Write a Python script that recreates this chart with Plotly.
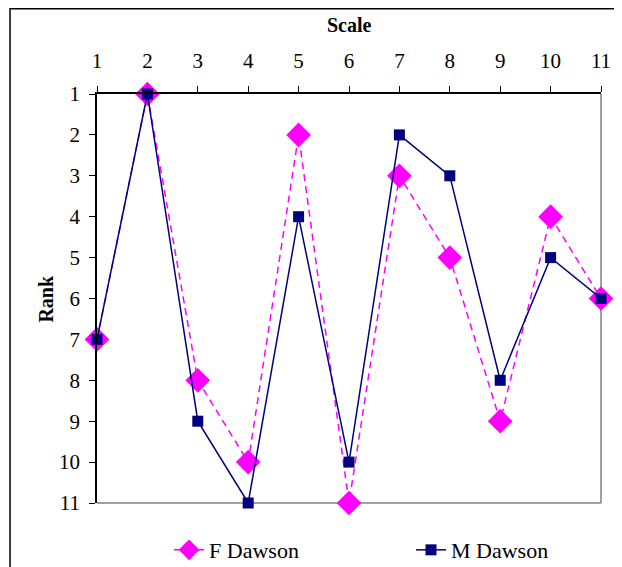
import plotly.graph_objects as go

scale = [1, 2, 3, 4, 5, 6, 7, 8, 9, 10, 11]
f_dawson = [7, 1, 8, 10, 2, 11, 3, 5, 9, 4, 6]
m_dawson = [7, 1, 9, 11, 4, 10, 2, 3, 8, 5, 6]

font = "Liberation Serif, Times New Roman, serif"

fig = go.Figure()
fig.add_trace(go.Scatter(
    x=scale, y=f_dawson, name="F Dawson", mode="lines+markers", cliponaxis=False,
    line=dict(color="#FF00FF", width=1.5, dash="7px,5px"),
    marker=dict(symbol="diamond", size=19, color="#FF00FF"),
    legend="legend",
))
fig.add_trace(go.Scatter(
    x=scale, y=m_dawson, name="M Dawson", mode="lines+markers", cliponaxis=False,
    line=dict(color="#000080", width=1.5),
    marker=dict(symbol="square", size=11, color="#000080"),
    legend="legend2",
))

PH = 409.0
fig.update_layout(
    width=622, height=567,
    margin=dict(l=89, r=29, t=86, b=72, autoexpand=False),
    plot_bgcolor="white", paper_bgcolor="white",
    font=dict(family=font, size=21, color="black"),
    showlegend=True,
    legend=dict(orientation="h", x=0.143, xanchor="left", y=-0.115, yanchor="middle",
                font=dict(size=22)),
    legend2=dict(orientation="h", x=0.623, xanchor="left", y=-0.115, yanchor="middle",
                 font=dict(size=22)),
    xaxis=dict(
        side="top", range=[1, 11], tickvals=scale, ticktext=[str(v) for v in scale],
        showgrid=False, zeroline=False, showline=True, linecolor="black", linewidth=1.5,
        ticks="outside", ticklen=6, tickcolor="black", tickwidth=1, automargin=False,
        ticklabelstandoff=10,
    ),
    yaxis=dict(
        range=[11, 1], tickvals=list(range(1, 12)),
        showgrid=False, zeroline=False, showline=True, linecolor="black", linewidth=1.5,
        ticks="outside", ticklen=6, tickcolor="black", tickwidth=1, automargin=False,
        ticklabelstandoff=5,
    ),
    annotations=[
        dict(text="<b>Scale</b>", xref="paper", yref="paper", x=0.5, y=1.169,
             showarrow=False, xanchor="center", yanchor="middle", font=dict(size=20)),
        dict(text="<b>Rank</b>", xref="paper", yref="paper", x=-0.103, y=0.5,
             showarrow=False, xanchor="center", yanchor="middle", textangle=-90,
             font=dict(size=20)),
    ],
    shapes=[
        dict(type="line", xref="paper", yref="paper", x0=1, x1=1, y0=0, y1=1,
             line=dict(color="#808080", width=1.5), layer="below"),
        dict(type="line", xref="paper", yref="paper", x0=0, x1=1, y0=0, y1=0,
             line=dict(color="#808080", width=1.5), layer="below"),
        dict(type="rect", xref="paper", yref="paper", x0=-0.1726, x1=1.2, y0=-0.3,
             y1=(495 - 0.75) / PH,
             line=dict(color="black", width=1.5), layer="below"),
    ],
)

fig.write_html("out.html")
